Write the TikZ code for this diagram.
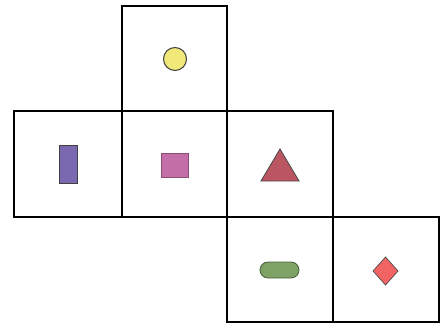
\documentclass[tikz,border=0pt]{standalone}
\usepackage{tikz}
\usepackage{xcolor}

\definecolor{sunyellow}{HTML}{F0E878}
\definecolor{violetbar}{HTML}{7A68B0}
\definecolor{pinkbox}{HTML}{C46EA8}
\definecolor{redtri}{HTML}{BC5562}
\definecolor{greenpill}{HTML}{7EA266}
\definecolor{salmon}{HTML}{F26464}

\begin{document}
\begin{tikzpicture}[x=0.02cm, y=-0.02cm]

    % Fix the page to the size of the reference
    \useasboundingbox (0,0) rectangle (442,324);

    % Corners of the faces of the net
    \coordinate (T1) at (122,6);   \coordinate (T2) at (227,111);
    \coordinate (L1) at (14,111);  \coordinate (L2) at (122,217);
    \coordinate (M1) at (122,111); \coordinate (M2) at (227,217);
    \coordinate (R1) at (227,111); \coordinate (R2) at (333,217);
    \coordinate (B1) at (227,217); \coordinate (B2) at (333,322);
    \coordinate (D1) at (333,217); \coordinate (D2) at (439,322);

    % Draw the six faces
    \draw[line width=1.2pt] (T1) rectangle (T2);
    \draw[line width=1.2pt] (L1) rectangle (L2);
    \draw[line width=1.2pt] (M1) rectangle (M2);
    \draw[line width=1.2pt] (R1) rectangle (R2);
    \draw[line width=1.2pt] (B1) rectangle (B2);
    \draw[line width=1.2pt] (D1) rectangle (D2);

    % Symbols on the faces
    % 1. Yellow circle on the top face
    \filldraw[fill=sunyellow, draw=black!75, line width=0.6pt] (175,59) circle (11.5);

    % 2. Violet bar on the left face
    \filldraw[fill=violetbar, draw=black!75, line width=0.5pt] (59,145) rectangle (77,183);

    % 3. Pink square in the middle
    \filldraw[fill=pinkbox, draw=pinkbox!70!black, line width=0.4pt] (161,153) rectangle (188,177);

    % 4. Red triangle on the right face
    \filldraw[fill=redtri, draw=black!70, line width=0.5pt] (261,181) -- (280,149) -- (299,181) -- cycle;

    % 5. Green pill below
    \filldraw[fill=greenpill, draw=greenpill!60!black, line width=0.5pt, rounded corners=0.16cm] (260,262) rectangle (299,278);

    % 6. Red diamond on the last face
    \filldraw[fill=salmon, draw=black!70, line width=0.4pt] (373,271) -- (385.5,257) -- (398,271) -- (385.5,285) -- cycle;

\end{tikzpicture}
\end{document}
